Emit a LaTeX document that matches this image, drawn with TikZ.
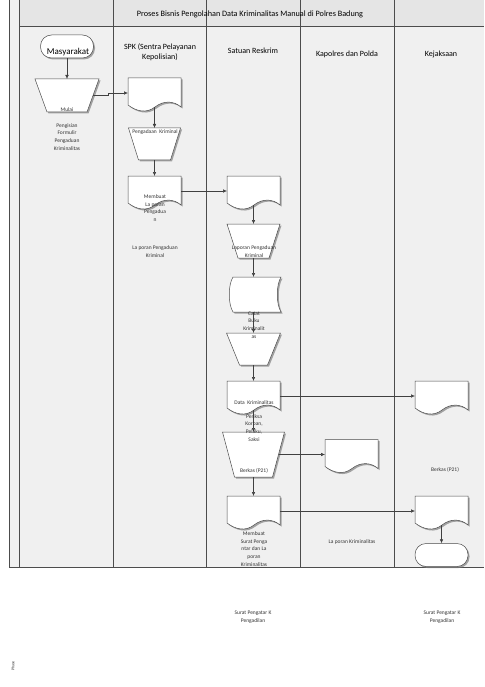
\documentclass[tikz,border=0pt]{standalone}
\usepackage{fontspec}
\setmainfont{Carlito}
\usetikzlibrary{arrows.meta,shadows}

\begin{document}
\begin{tikzpicture}[x=1pt, y=-1pt,
  lane/.style={draw=black!70, line width=0.6pt},
  symb/.style={draw=black!70, fill=white, line width=0.5pt,
    drop shadow={shadow xshift=1.5pt, shadow yshift=-1.5pt, fill=black!50, opacity=0.7}},
  flow/.style={draw=black!75, line width=0.5pt, -{Latex[length=4pt,width=3.5pt]}},
  lbl/.style={font=\fontsize{5.5}{7.8}\selectfont, align=center, inner sep=0pt, text=black!80},
  head/.style={font=\fontsize{8}{9.6}\selectfont, align=center, inner sep=0pt},
  term/.style={symb, rounded corners=11pt, minimum width=53pt, minimum height=23pt, inner sep=0pt},
  docu/.pic={
    \path[symb] (0,0) -- (53,0) -- (53,29) .. controls (46,23) and (36,22) .. (27,29)
      .. controls (18,36) and (8,33) .. (0,27) -- cycle;
    \coordinate (-n) at (26.5,0);
    \coordinate (-s) at (26.5,29);
    \coordinate (-w) at (0,15);
    \coordinate (-e) at (53,15);
  },
  stored/.pic={
    \path[symb] (5,0) -- (53,0) .. controls (48,8) and (48,27) .. (53,35) -- (5,35)
      .. controls (0,27) and (0,8) .. (5,0) -- cycle;
    \coordinate (-n) at (25.5,0);
    \coordinate (-s) at (25.5,35);
  },
  pics/manop/.style args={#1/#2/#3}{code={
    \path[symb] (0,0) -- (#1,0) -- (#1-#3,#2) -- (#3,#2) -- cycle;
    \coordinate (-n) at (#1/2,0);
    \coordinate (-s) at (#1/2,#2);
    \coordinate (-e) at (#1-#3/2,#2/2);
  }}]
\useasboundingbox (0,0) rectangle (484,687);

\fill[black!6] (9,0) rectangle (484,567);
\fill[black!10] (19,0) rectangle (484,26);
\draw[lane] (9,0) -- (9,567) -- (484,567);
\draw[lane] (19,0) -- (19,567);
\draw[lane] (19,26) -- (484,26);
\foreach \x in {113,206,300,394}
  \draw[lane] (\x,0) -- (\x,567);

\node[head, font=\fontsize{8.2}{9.6}\selectfont] (judul) at (250,14) {Proses Bisnis Pengolahan Data Kriminalitas Manual di Polres Badung};
\node[head] (spk) at (160,52) {SPK (Sentra Pelayanan\\Kepolisian)};
\node[head] (reskrim) at (253,51) {Satuan Reskrim};
\node[head] (polda) at (347,54) {Kapolres dan Polda};
\node[head] (jaksa) at (441,54) {Kejaksaan};

\node[term] (masy) at (67,46.5) {};
\pic (t1) at (35,79) {manop=64/33/12};
\pic (d1) at (128,78) {docu};
\pic (t2) at (128.5,128) {manop=52/32/10};
\pic (d2) at (128,176) {docu};
\pic (d3) at (227,176) {docu};
\pic (t3) at (227,224) {manop=53/34/11};
\pic (sd) at (228,277) {stored};
\pic (t4) at (226.5,333) {manop=54/32/13};
\pic (d4) at (227,381) {docu};
\pic (t5) at (222.5,432) {manop=62/45/12};
\pic (d5) at (227,496) {docu};
\pic (p1) at (325,439.5) {docu};
\pic (k1) at (415,381) {docu};
\pic (k2) at (415,496) {docu};
\node[term] (akhir) at (441.5,555) {};

\draw[flow] (masy) -- (t1-n);
\draw[flow] (t1-e) -- ++(15,0) |- (d1-w);
\draw[flow] (d1-s) -- (t2-n);
\draw[flow] (t2-s) -- (d2-n);
\draw[flow] (d2-e) -- (d3-w);
\draw[flow] (d3-s) -- (t3-n);
\draw[flow] (t3-s) -- (sd-n);
\draw[flow] (sd-s) -- (t4-n);
\draw[flow] (t4-s) -- (d4-n);
\draw[flow] (d4-e) -- (k1-w);
\draw[flow] (d4-s) -- (t5-n);
\draw[flow] (t5-e) -- (p1-w);
\draw[flow] (t5-s) -- (d5-n);
\draw[flow] (d5-e) -- (k2-w);
\draw[flow] (k2-s) -- (akhir);

\node[head, font=\fontsize{9}{10}\selectfont] (masylbl) at (68,52) {Masyarakat};
\node[lbl] (mulai) at (67,110) {Mulai};
\node[lbl] (isi) at (67,137) {Pengisian\\Formulir\\Pengaduan\\Kriminalitas};
\node[lbl] (adakrim) at (155,132) {Pengadaan\ \ Kriminal};
\node[lbl] (buatlap) at (155,208) {Membuat\\La poran\\Pengadua\\n};
\node[lbl] (lapspk) at (155,252) {La poran Pengaduan\\Kriminal};
\node[lbl] (lapres) at (254,252) {Laporan Pengaduan\\Kriminal};
\node[lbl] (catat) at (254,325) {Catat\\Buku\\Kriminalit\\as};
\node[lbl] (datakrim) at (254,403) {Data\ \ Kriminalitas};
\node[lbl] (periksa) at (254,428) {Periksa\\Korban,\\Pelaku,\\Saksi};
\node[lbl] (berkas) at (254,471) {Berkas (P21)};
\node[lbl] (suratres) at (254,549) {Membuat\\Surat Penga\\ntar dan La\\poran\\Kriminalitas};
\node[lbl] (lappolda) at (352,542) {La poran Kriminalitas};
\node[lbl] (berkasjaksa) at (445,470) {Berkas (P21)};
\node[lbl] (pengantar1) at (253,617) {Surat Pengatar K\\Pengadilan};
\node[lbl] (pengantar2) at (442,617) {Surat Pengatar K\\Pengadilan};
\node[lbl, font=\fontsize{4}{5}\selectfont, rotate=90] (fase) at (13,666) {Phase};
\end{tikzpicture}
\end{document}
